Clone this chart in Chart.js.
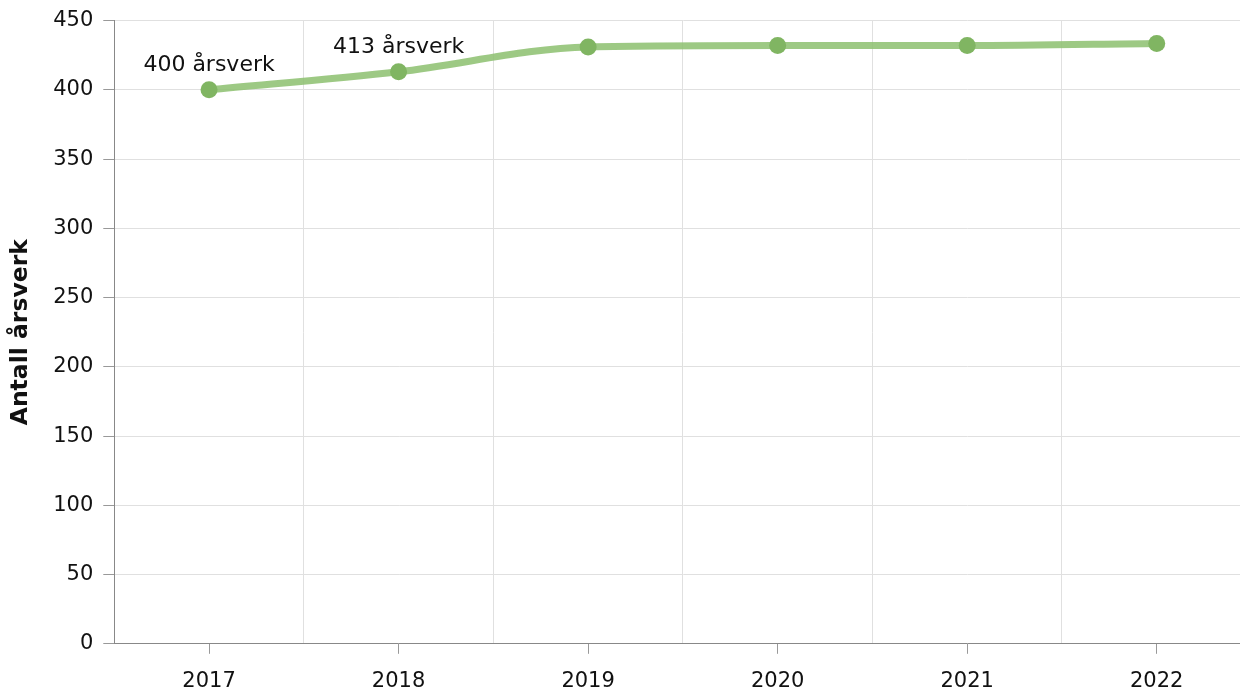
<!DOCTYPE html>
<html>
<head>
<meta charset="utf-8">
<script src="https://cdn.jsdelivr.net/npm/chart.js@4.4.1/dist/chart.umd.min.js"></script>
<style>
  html, body { margin: 0; padding: 0; background: #fff; overflow: hidden; }
  #wrap { width: 1260px; height: 691px; margin-top: -2px; }
</style>
</head>
<body>
<div id="wrap"><canvas id="c"></canvas></div>
<script>
const years = ['2017', '2018', '2019', '2020', '2021', '2022'];
const aarsverk = [400, 413, 431, 432, 432, 433.5];
const pointLabels = ['400 årsverk', '413 årsverk', '', '', '', ''];

const FONT = 'Verdana, "DejaVu Sans", sans-serif';

// tekst over de første punktene
const labelPlugin = {
  id: 'pointLabels',
  afterDatasetsDraw(chart) {
    const ctx = chart.ctx;
    const meta = chart.getDatasetMeta(0);
    ctx.save();
    ctx.font = '22px ' + FONT;
    ctx.fillStyle = '#111';
    ctx.textAlign = 'center';
    ctx.textBaseline = 'middle';
    meta.data.forEach((pt, i) => {
      if (pointLabels[i]) ctx.fillText(pointLabels[i], pt.x, pt.y - 25);
    });
    ctx.restore();
  }
};

new Chart(document.getElementById('c'), {
  type: 'line',
  data: {
    labels: years,
    datasets: [{
      data: aarsverk,
      borderColor: 'rgba(140, 192, 110, 0.85)',
      borderWidth: 7,
      cubicInterpolationMode: 'monotone',
      pointRadius: 8.5,
      pointHoverRadius: 8.5,
      pointBackgroundColor: '#80b562',
      pointBorderWidth: 0
    }]
  },
  options: {
    responsive: true,
    maintainAspectRatio: false,
    animation: false,
    layout: { padding: { top: 0, left: 7, right: 0, bottom: -20 } },
    plugins: { legend: { display: false }, tooltip: { enabled: false } },
    scales: {
      x: {
        offset: true,
        grid: { offset: false, drawOnChartArea: false, tickLength: 10, tickColor: '#999' },
        border: { color: '#888' },
        ticks: { color: '#111', font: { family: FONT, size: 21 }, padding: 15 }
      },
      xg: {
        type: 'category',
        labels: years,
        position: 'top',
        offset: true,
        grid: { offset: true, color: '#e0e0e0', drawTicks: false },
        border: { display: false },
        ticks: { display: false }
      },
      y: {
        min: 0,
        max: 450,
        ticks: { stepSize: 50, color: '#111', font: { family: FONT, size: 21 }, padding: 10 },
        grid: { color: '#e0e0e0', tickLength: 11, tickColor: '#999' },
        border: { color: '#888' },
        title: {
          display: true,
          text: 'Antall årsverk',
          color: '#111',
          font: { family: FONT, size: 23.5, weight: 'bold' },
          padding: { top: 0, bottom: 8 }
        }
      }
    }
  },
  plugins: [labelPlugin]
});
</script>
</body>
</html>
